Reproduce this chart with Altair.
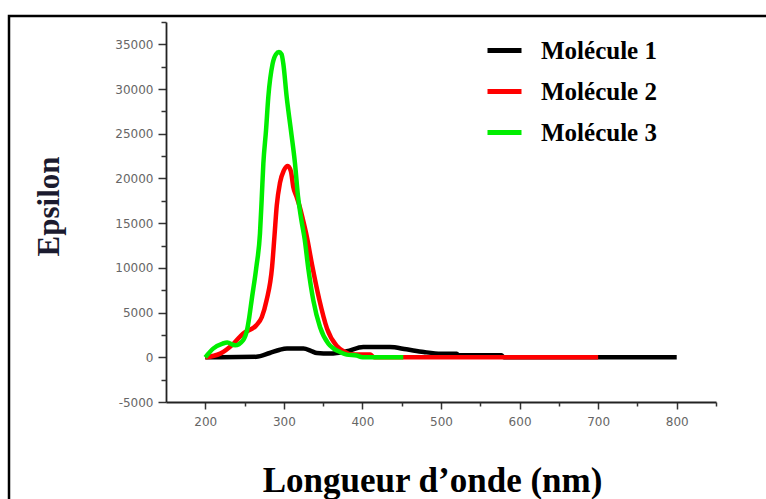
import altair as alt
import pandas as pd

# ---- data ----
wl_m1 = [200, 220, 265, 282, 295, 304, 325, 335, 342, 359, 380, 401, 435, 456, 478, 500, 520, 522, 577, 580, 800]
ep_m1 = [0, 0, 50, 480, 850, 970, 970, 700, 480, 420, 670, 1150, 1150, 890, 590, 410, 410, 220, 220, 0, 0]

wl_m2 = [200, 219, 236, 248, 265, 272, 278, 285, 288, 291, 295, 300, 305, 309, 312, 316, 320, 324, 329,
         336, 345, 355, 367, 378, 385, 395, 410, 415, 700]
ep_m2 = [0, 410, 1530, 2650, 3580, 4500, 6370, 10100, 13500, 17000, 19500, 20900, 21400, 20800, 19040,
         18000, 16900, 15500, 13600, 10300, 6500, 3200, 1300, 590, 330, 300, 300, 0, 0]

wl_m3 = [200, 210, 222, 228, 238, 248, 253, 256, 259, 265, 269.6, 271.8, 273.9, 277.3, 280.2, 285.7, 290,
         293.8, 297, 299.3, 303.6, 309, 314.2, 318, 322, 326.5, 331, 337.5, 346, 356.6, 363, 371.5, 380,
         392.7, 400, 452]
ep_m3 = [0, 970, 1530, 1650, 1340, 1900, 3000, 4500, 6400, 10100, 13830, 17700, 21660, 25380, 29100, 32840,
         33900, 34140, 33900, 32840, 29100, 25380, 21660, 18000, 15500, 13200, 10000, 6370, 3390, 1530,
         1000, 590, 300, 200, 0, 0]

series_names = ["Molécule 1", "Molécule 2", "Molécule 3"]
series_colors = ["#000000", "#ff0000", "#00ee00"]

x_major = [200, 300, 400, 500, 600, 700, 800]
x_minor = [250, 350, 450, 550, 650, 750, 850]
y_major = [-5000, 0, 5000, 10000, 15000, 20000, 25000, 30000, 35000]
y_minor = [-2500, 2500, 7500, 12500, 17500, 22500, 27500, 32500, 37500]

rows = []
for name, wls, eps in zip(series_names, [wl_m1, wl_m2, wl_m3], [ep_m1, ep_m2, ep_m3]):
    for i, (w, e) in enumerate(zip(wls, eps)):
        rows.append({"wl": w, "eps": e, "serie": name, "ordre": i})
df = pd.DataFrame(rows)

W, H = 550, 380
xscale = alt.Scale(domain=[150, 850], nice=False, zero=False)
yscale = alt.Scale(domain=[-5000, 37500], nice=False, zero=False)

lines = alt.Chart(df).mark_line(strokeWidth=4.5, interpolate="monotone").encode(
    x=alt.X("wl:Q", scale=xscale,
            axis=alt.Axis(values=x_major, labelExpr="'' + datum.value", tickSize=7, tickWidth=1.5,
                          tickColor="#333", domainColor="#222", domainWidth=1.8, labelPadding=7,
                          labelFont="DejaVu Sans", labelFontSize=12, labelColor="#666",
                          title="Longueur d’onde (nm)", titleFont="Liberation Serif",
                          titleFontSize=35, titleFontWeight="bold", titleColor="#000",
                          titleX=266, titleY=89, titleAnchor="middle", titleAlign="center",
                          titleBaseline="alphabetic", grid=False)),
    y=alt.Y("eps:Q", scale=yscale,
            axis=alt.Axis(values=y_major, labelExpr="'' + datum.value", tickSize=8, tickWidth=1.5,
                          tickColor="#333", domainColor="#222", domainWidth=1.8, labelPadding=5,
                          labelFont="DejaVu Sans", labelFontSize=12, labelColor="#666",
                          title="Epsilon", titleFont="Liberation Serif", titleFontSize=31,
                          titleFontWeight="bold", titleColor="#1b1b2f", titleAngle=-90,
                          titleX=-108, titleY=184, titleAlign="center",
                          titleBaseline="alphabetic", grid=False)),
    color=alt.Color("serie:N",
                    scale=alt.Scale(domain=series_names, range=series_colors),
                    legend=alt.Legend(orient="none", legendX=319, legendY=9, title=None,
                                      symbolType="stroke", symbolSize=1156, symbolStrokeWidth=5,
                                      labelFont="Liberation Serif", labelFontSize=25,
                                      labelFontWeight="bold", labelColor="#000",
                                      labelOffset=17, rowPadding=8, padding=0,
                                      labelLimit=300)),
    order="ordre:Q",
)

minor_df = pd.DataFrame({"wl": [200], "eps": [0]})
minor = alt.Chart(minor_df).mark_point(opacity=0).encode(
    x=alt.X("wl:Q", scale=xscale,
            axis=alt.Axis(values=x_minor, labels=False, domain=False, tickSize=4, tickWidth=1.5,
                          tickColor="#333", title=None, grid=False, orient="bottom")),
    y=alt.Y("eps:Q", scale=yscale,
            axis=alt.Axis(values=y_minor, labels=False, domain=False, tickSize=5, tickWidth=1.5,
                          tickColor="#333", title=None, grid=False, orient="left")),
)

frame = alt.Chart(minor_df).mark_rect(fill=None, stroke="#000", strokeWidth=2.5).encode(
    x=alt.value(9 - 166), x2=alt.value(900), y=alt.value(16 - 22), y2=alt.value(600)
)

chart = alt.layer(lines, minor, frame).resolve_axis(x="independent", y="independent").properties(
    width=W, height=H,
    autosize=alt.AutoSizeParams(type="none"),
    padding={"left": 166, "top": 22, "right": 50, "bottom": 97},
).configure_view(stroke=None)

chart.save("out.html", embed_options={"renderer": "svg", "actions": False})
